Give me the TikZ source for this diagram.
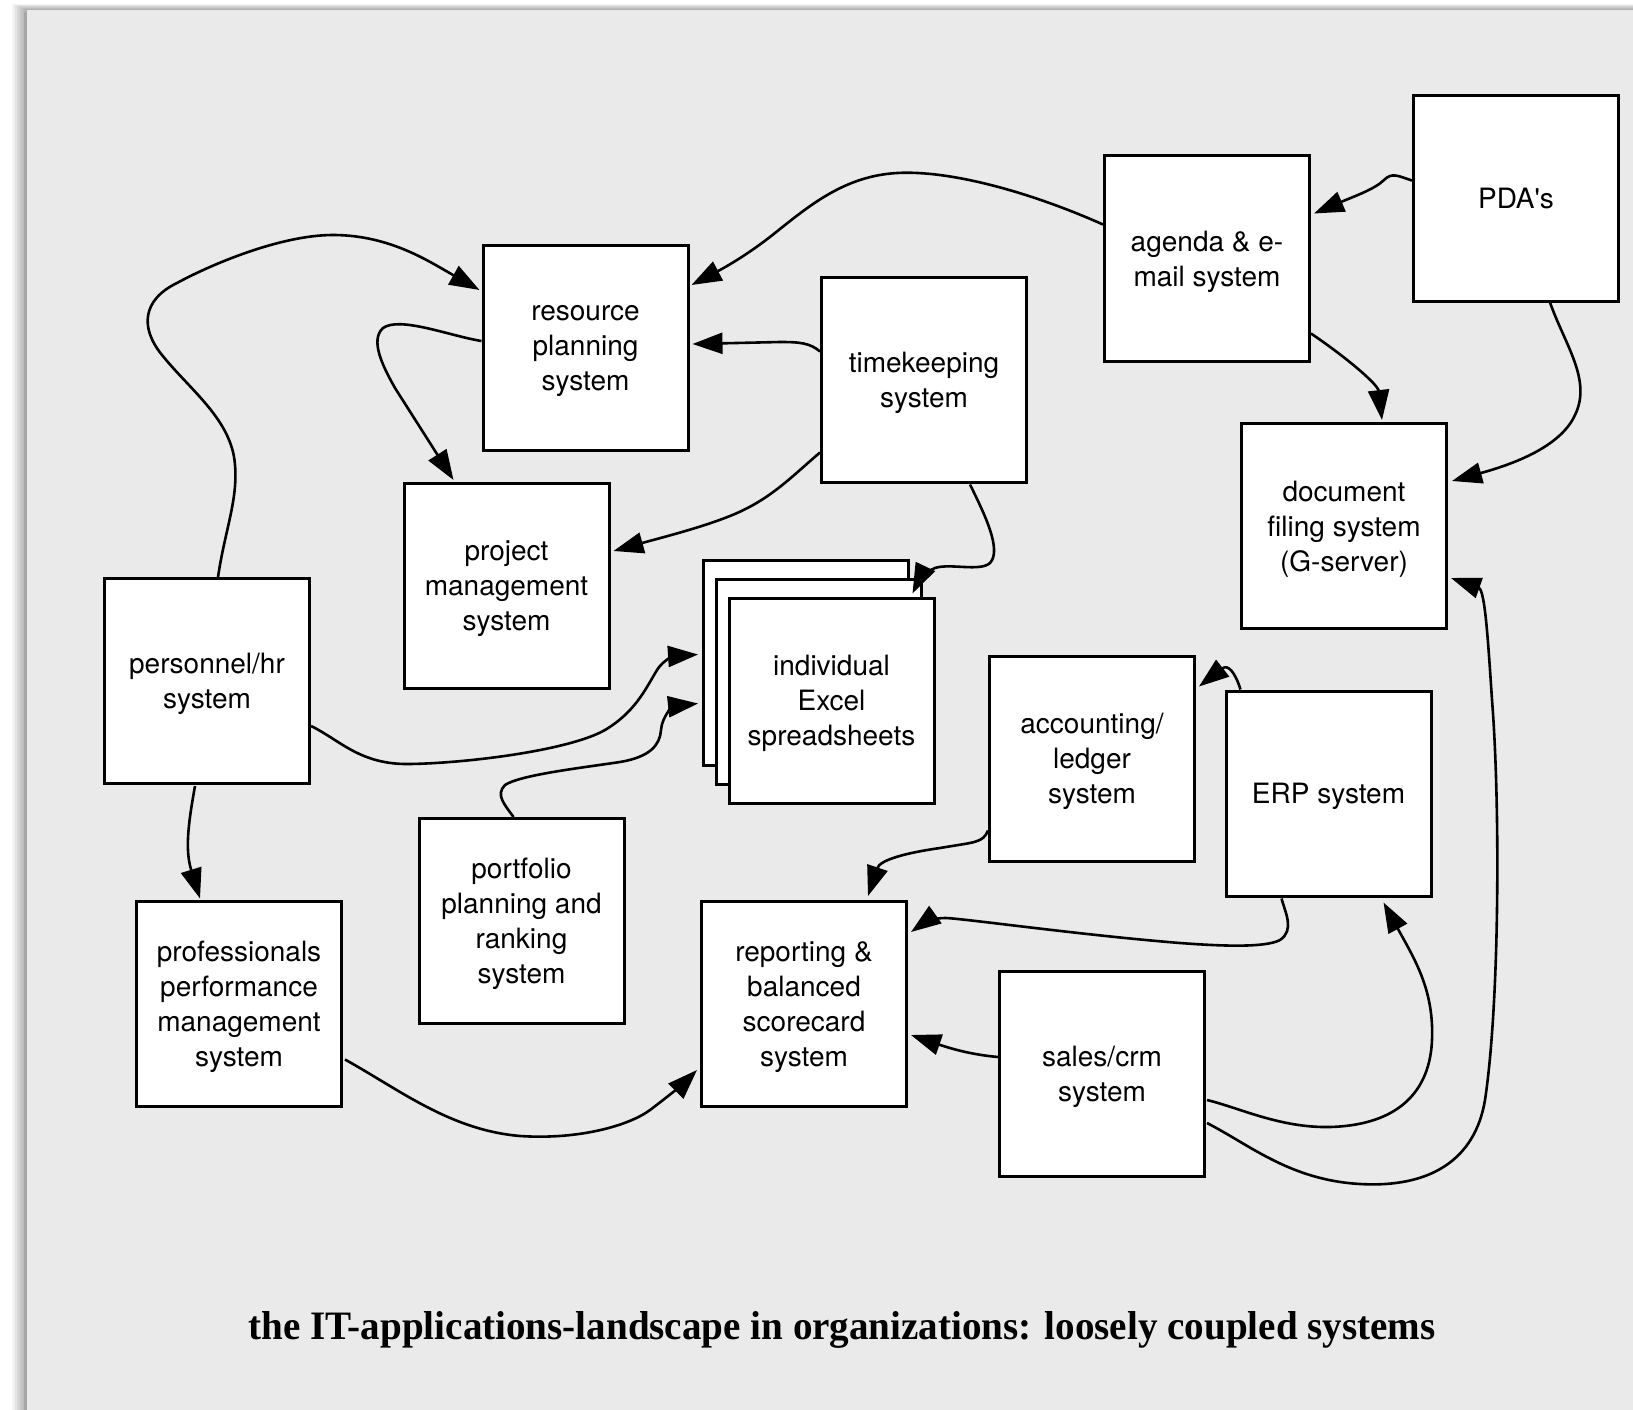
\documentclass[tikz,border=0pt]{standalone}
\usepackage{fontspec}
\usepackage{graphicx}
\setmainfont{TeX Gyre Heros}
\newfontfamily\titlefont{Liberation Serif}
\usetikzlibrary{arrows.meta,calc}
\definecolor{panel}{RGB}{234,234,234}
\begin{document}
\begin{tikzpicture}[x=1pt,y=-1pt,
  box/.style={draw, line width=3pt, fill=white, minimum width=205pt, minimum height=205pt,
              inner sep=0pt, align=center, font=\fontsize{28}{35}\selectfont,
              text depth=0pt, execute at begin node={\rule{0pt}{20pt}}},
  conn/.style={line width=2.6pt, -{Triangle[length=30pt,width=21pt]}}]
\useasboundingbox (0,0) rectangle (1633,1410);
\fill[white] (0,0) rectangle (1633,1410);
% panel shadow
\foreach \i in {1,...,10}{
  \fill[black, opacity=0.035] (27-1.5*\i,10-0.6*\i) rectangle (1633,1410);
}
\fill[black!35] (24,12) rectangle (27,1410);
\fill[panel] (27,10) rectangle (1633,1410);

% boxes
\node[box] (pda) at (1516,198.5) {PDA\textquotesingle s};
\node[box] (agenda) at (1207,258.5) {agenda \& e-\\mail system};
\node[box] (resource) at (585.5,348) {resource\\planning\\system};
\node[box] (time) at (924,379.5) {timekeeping\\system};
\node[box] (doc) at (1344,526) {document\\filing system\\(G-server)};
\node[box] (project) at (506.5,586) {project\\management\\system};
\node[box] (excelA) at (806,662.5) {};
\node[box] (excelB) at (819,681.5) {};
\node[box] (excelC) at (831.5,700.5) {individual\\Excel\\spreadsheets};
\node[box] (personnel) at (207,681) {personnel/hr\\system};
\node[box] (accounting) at (1092,758.5) {accounting/\\ledger\\system};
\node[box] (erp) at (1328.5,793.5) {ERP system};
\node[box] (portfolio) at (521.5,921) {portfolio\\planning and\\ranking\\system};
\node[box] (prof) at (239,1003.5) {professionals\\performance\\management\\system};
\node[box] (reporting) at (804,1004) {reporting \&\\balanced\\scorecard\\system};
\node[box] (sales) at (1102,1074) {sales/crm\\system};

% connectors
% 1 agenda -> resource
\draw[conn] ($(agenda.west)+(0,-34)$) .. controls (1030,192) and (950,170) .. (897,173)
  .. controls (845,176) and (810,205) .. (775,233) .. controls (745,257) and (720,270) .. ($(resource.east)+(2,-63)$);
% 2 pda -> agenda
\draw[conn] ($(pda.west)+(0,-18)$) .. controls (1398,176) and (1392,172) .. (1384,180)
  .. controls (1375,189) and (1355,196) .. ($(agenda.east)+(3,-45)$);
% 3 agenda -> doc
\draw[conn] ($(agenda.east)+(0,75)$) .. controls (1350,360) and (1378,385) .. ($(doc.north)+(38,-2)$);
% 4 pda -> doc
\draw[conn] ($(pda.south)+(34,0)$) .. controls (1565,345) and (1592,380) .. (1575,415)
  .. controls (1560,448) and (1510,465) .. ($(doc.east)+(4,-45)$);
% 5 personnel -> resource
\draw[conn] ($(personnel.north)+(11,0)$) .. controls (225,530) and (238,500) .. (235,465)
  .. controls (232,420) and (190,390) .. (162,355) .. controls (140,328) and (142,300) .. (177,283)
  .. controls (210,265) and (280,235) .. (333,235) .. controls (390,235) and (430,262) .. ($(resource.west)+(-2,-58)$);
% 6 resource -> project
\draw[conn] ($(resource.west)+(0,-7)$) .. controls (450,336) and (400,316) .. (383,328)
  .. controls (370,340) and (382,365) .. (395,388) -- ($(project.north)+(-53,-2)$);
% 7 time -> resource
\draw[conn] ($(time.west)+(0,-28)$) .. controls (810,343) and (800,342) .. (780,342) -- ($(resource.east)+(3,-4)$);
% 8 time -> project
\draw[conn] ($(time.west)+(0,73)$) .. controls (790,478) and (770,500) .. (730,516)
  .. controls (700,528) and (660,538) .. ($(project.east)+(3,-35)$);
% 9 time -> excel
\draw[conn] ($(time.south)+(46,1)$) .. controls (985,515) and (1002,550) .. (990,563)
  .. controls (980,572) and (950,563) .. (935,568) .. controls (925,572) and (918,582) .. ($(excelC.north)+(81,-3)$);
% 10 personnel -> excel
\draw[conn] ($(personnel.east)+(0,45)$) .. controls (340,740) and (360,765) .. (410,764)
  .. controls (470,763) and (570,750) .. (605,730) .. controls (635,712) and (645,690) .. (657,670)
  .. controls (663,660) and (675,656) .. ($(excelA.west)+(-4,-8)$);
% 11 portfolio -> excel
\draw[conn] ($(portfolio.north)+(-8,0)$) .. controls (505,805) and (495,795) .. (505,785)
  .. controls (520,775) and (580,768) .. (620,762) .. controls (650,757) and (660,745) .. (661,730)
  .. controls (662,715) and (675,706) .. ($(excelA.west)+(-4,41)$);
% 12 personnel -> prof
\draw[conn] ($(personnel.south)+(-12,1)$) .. controls (188,825) and (185,850) .. ($(prof.north)+(-39,-1)$);
% 13 accounting -> reporting
\draw[conn] ($(accounting.west)+(0,72)$) .. controls (983,843) and (975,842) .. (940,848)
  .. controls (905,853) and (880,860) .. ($(reporting.north)+(64,-4)$);
% 14 erp -> accounting
\draw[conn] ($(erp.north)+(-88,0)$) .. controls (1235,672) and (1228,664) .. ($(accounting.east)+(3,-72)$);
% 15 erp -> reporting
\draw[conn] ($(erp.south)+(-47,1)$) .. controls (1285,912) and (1295,930) .. (1280,940)
  .. controls (1265,948) and (1220,946) .. (1180,943) .. controls (1080,935) and (960,918) .. (945,918)
  .. controls (935,918) and (925,922) .. ($(reporting.east)+(3,-72)$);
% 16 sales -> reporting
\draw[conn] ($(sales.west)+(0,-17)$) .. controls (975,1055) and (955,1050) .. ($(reporting.east)+(3,31)$);
% 17 prof -> reporting
\draw[conn] ($(prof.east)+(2,56)$) .. controls (400,1090) and (450,1130) .. (520,1136)
  .. controls (580,1140) and (630,1125) .. (650,1110) .. controls (670,1095) and (685,1082) .. ($(reporting.west)+(-3,66)$);
% 18 sales -> erp
\draw[conn] ($(sales.east)+(1,26)$) .. controls (1240,1108) and (1280,1128) .. (1330,1127)
  .. controls (1400,1125) and (1430,1090) .. (1432,1040) .. controls (1434,990) and (1415,960) .. ($(erp.south)+(55,5)$);
% 19 sales -> doc
\draw[conn] ($(sales.east)+(1,49)$) .. controls (1250,1145) and (1290,1180) .. (1360,1184)
  .. controls (1430,1188) and (1475,1160) .. (1485,1100) .. controls (1500,1000) and (1500,800) .. (1492,700)
  .. controls (1488,640) and (1485,590) .. ($(doc.east)+(3,52)$);

% title
\node[anchor=base, inner sep=0pt] (title) at (842,1339)
  {\resizebox{1187pt}{28pt}{\titlefont\bfseries the IT-applications-landscape in organizations: loosely coupled systems}};
\end{tikzpicture}
\end{document}
